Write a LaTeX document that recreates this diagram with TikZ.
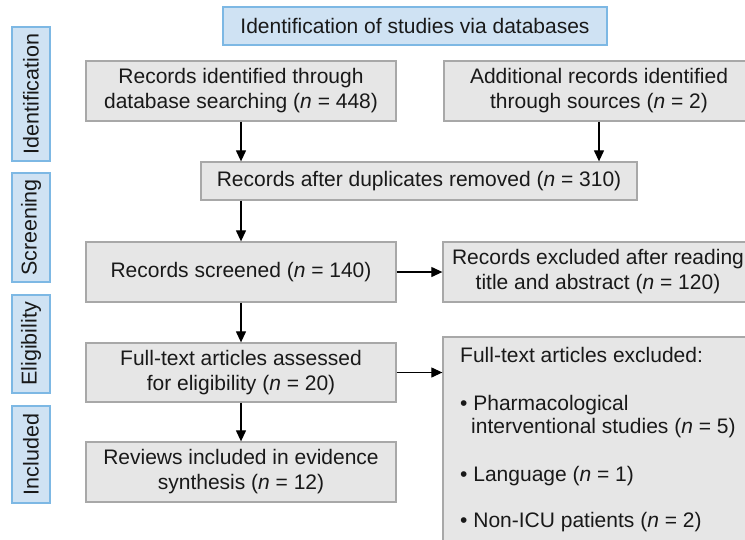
\documentclass[tikz,border=0pt]{standalone}
\usepackage{fontspec}
\setmainfont{Liberation Sans}
\usetikzlibrary{arrows.meta}
\definecolor{boxgray}{HTML}{E6E6E6}
\definecolor{bordergray}{HTML}{A8A8A8}
\definecolor{sideblue}{HTML}{CFE2F3}
\definecolor{sideborder}{HTML}{7DB8E4}
\tikzset{
  gbox/.style={draw=bordergray, fill=boxgray, line width=1.3pt, inner sep=0pt,
    align=center, font=\fontsize{21}{25}\selectfont, text=black!90},
  bbox/.style={draw=sideborder, fill=sideblue, line width=1.3pt, inner sep=0pt,
    align=center, font=\fontsize{21}{25}\selectfont, text=black!90},
  txt/.style={anchor=base west, inner sep=0pt, font=\fontsize{21}{25}\selectfont, text=black!90},
  arr/.style={line width=1.2pt, -{Triangle[length=11pt,width=10pt]}}
}
\begin{document}
\begin{tikzpicture}[x=1pt,y=-1pt]
\useasboundingbox (0,0) rectangle (745,539);
\clip (0,0) rectangle (745,539);
% side labels
\node[bbox, rotate=90, minimum width=134pt, minimum height=38pt, font=\fontsize{21.5}{25}\selectfont] (sid) at (31,94) {Identification};
\node[bbox, rotate=90, minimum width=109pt, minimum height=38pt, font=\fontsize{21.5}{25}\selectfont] (sscr) at (31,227.5) {Screening};
\node[bbox, rotate=90, minimum width=98pt, minimum height=38pt, font=\fontsize{21.5}{25}\selectfont] (selig) at (31,344) {Eligibility};
\node[bbox, rotate=90, minimum width=97pt, minimum height=38pt, font=\fontsize{21.5}{25}\selectfont] (sinc) at (31,454.5) {Included};
% header
\node[bbox, minimum width=384pt, minimum height=38pt] (head) at (415,26) {Identification of studies via databases};
% main boxes
\node[gbox, minimum width=310pt, minimum height=60pt] (db) at (241,91) {Records identified through\\database searching (\textit{n} = 448)};
\node[gbox, minimum width=310pt, minimum height=60pt] (add) at (599,91) {Additional records identified\\through sources (\textit{n} = 2)};
\node[gbox, minimum width=436pt, minimum height=38pt] (dup) at (419,181) {Records after duplicates removed (\textit{n} = 310)};
\node[gbox, minimum width=310pt, minimum height=60pt] (scr) at (241,272) {Records screened (\textit{n} = 140)};
\node[gbox, minimum width=310pt, minimum height=60pt] (exc) at (598,272) {Records excluded after reading\\title and abstract (\textit{n} = 120)};
\node[gbox, minimum width=310pt, minimum height=59pt] (full) at (241,372.5) {Full-text articles assessed\\for eligibility (\textit{n} = 20)};
\node[gbox, minimum width=310pt, minimum height=60pt] (rev) at (241,472) {Reviews included in evidence\\synthesis (\textit{n} = 12)};
\node[gbox, minimum width=310pt, minimum height=220pt] (fexc) at (598,447) {};
% text of the excluded box
\node[txt] (t1) at (460,362) {Full-text articles excluded:};
\node[txt] (t2) at (460,410) {• Pharmacological};
\node[txt] (t3) at (471,433) {interventional studies (\textit{n} = 5)};
\node[txt] (t4) at (460,481) {• Language (\textit{n} = 1)};
\node[txt] (t5) at (460,527) {• Non-ICU patients (\textit{n} = 2)};
% arrows
\draw[arr] (db.south) -- (db.south |- dup.north);
\draw[arr] (add.south) -- (add.south |- dup.north);
\draw[arr] (dup.south -| scr.north) -- (scr.north);
\draw[arr] (scr.south) -- (full.north);
\draw[arr] (full.south) -- (rev.north);
\draw[arr] (scr.east) -- (exc.west);
\draw[arr] (full.east) -- (full.east -| fexc.west);
\end{tikzpicture}
\end{document}
